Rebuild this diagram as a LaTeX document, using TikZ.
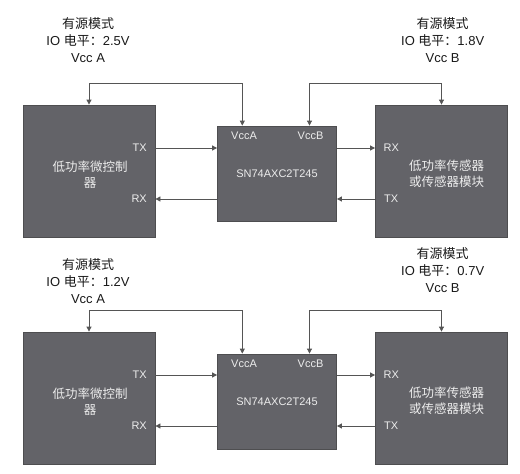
\documentclass[tikz,border=0pt]{standalone}
\usepackage{fontspec}
\setmainfont{Liberation Sans}
\newfontfamily\cjk{Noto Sans CJK SC}
\usetikzlibrary{arrows.meta}
\definecolor{boxfill}{RGB}{99,99,104}
\definecolor{boxline}{RGB}{78,78,80}
\definecolor{wirec}{RGB}{85,85,85}
\definecolor{lbl}{RGB}{236,236,236}
\begin{document}
\begin{tikzpicture}[x=1pt,y=-1pt,
  blk/.style={draw=boxline, fill=boxfill, line width=0.8pt, minimum width=132pt, minimum height=132pt, inner sep=0pt},
  chip/.style={blk, minimum width=119pt, minimum height=95pt, text=lbl, font=\fontsize{11}{13}\selectfont},
  inner/.style={text=lbl, align=center, inner sep=0pt, font=\fontsize{12.5}{16}\selectfont\cjk},
  pin/.style={text=lbl, font=\fontsize{11}{13}\selectfont, inner sep=0pt},
  note/.style={align=center, inner sep=0pt, font=\fontsize{13}{17}\selectfont, text=black!90},
  wire/.style={draw=wirec, line width=0.8pt},
  arr/.style={wire, -{Triangle[length=5pt,width=5pt]}},
  darr/.style={wire, {Triangle[length=5pt,width=5pt]}-{Triangle[length=5pt,width=5pt]}},
]
\useasboundingbox (0,0) rectangle (520,474);

% ---------- top half ----------
\node[blk] (mcu1) at (89,171) {};
\node[chip] (mid1) at (277,173.5) {SN74AXC2T245};
\node[blk] (sen1) at (441.5,171) {};
\node[inner] (mcu1t) at (90,174.5) {低功率微控制\\器};
\node[inner] (sen1t) at (446.5,174) {低功率传感器\\或传感器模块};
\node[pin, anchor=east] (tx1) at (147,148) {TX};
\node[pin, anchor=east] (rx1) at (147,199) {RX};
\node[pin, anchor=west] (srx1) at (383.5,148) {RX};
\node[pin, anchor=west] (stx1) at (384,199) {TX};
\node[pin] (va1) at (244,136) {VccA};
\node[pin] (vb1) at (310.5,136) {VccB};
\node[note] (n1a) at (88,40.5) {{\cjk 有源模式}\\IO {\cjk 电平：}2.5V\\Vcc A};
\node[note] (n1b) at (442.7,40.5) {{\cjk 有源模式}\\IO {\cjk 电平：}1.8V\\Vcc B};
\coordinate (rail1) at (0,83);
\draw[darr] (mcu1.north) -- (mcu1.north |- rail1) -| ([xshift=25.2pt]mid1.north west);
\draw[darr] ([xshift=-27.4pt]mid1.north east) -- ([xshift=-27.4pt]mid1.north east |- rail1) -| (sen1.north);
\draw[arr] ([yshift=23pt]mcu1.east) -- ([yshift=23pt]mcu1.east -| mid1.west);
\draw[arr] ([yshift=-28pt]mcu1.east -| mid1.west) -- ([yshift=-28pt]mcu1.east);
\draw[arr] ([yshift=23pt]sen1.west -| mid1.east) -- ([yshift=23pt]sen1.west);
\draw[arr] ([yshift=-28pt]sen1.west) -- ([yshift=-28pt]sen1.west -| mid1.east);

% ---------- bottom half ----------
\node[blk] (mcu2) at (89,398) {};
\node[chip] (mid2) at (277,401.5) {SN74AXC2T245};
\node[blk] (sen2) at (441.5,398) {};
\node[inner] (mcu2t) at (90,401.5) {低功率微控制\\器};
\node[inner] (sen2t) at (446.5,401) {低功率传感器\\或传感器模块};
\node[pin, anchor=east] (tx2) at (147,375) {TX};
\node[pin, anchor=east] (rx2) at (147,426) {RX};
\node[pin, anchor=west] (srx2) at (383.5,375) {RX};
\node[pin, anchor=west] (stx2) at (384,426) {TX};
\node[pin] (va2) at (244,364) {VccA};
\node[pin] (vb2) at (310.5,364) {VccB};
\node[note] (n2a) at (88,281) {{\cjk 有源模式}\\IO {\cjk 电平：}1.2V\\Vcc A};
\node[note] (n2b) at (442.7,270.5) {{\cjk 有源模式}\\IO {\cjk 电平：}0.7V\\Vcc B};
\coordinate (rail2) at (0,310);
\draw[darr] (mcu2.north) -- (mcu2.north |- rail2) -| ([xshift=25.2pt]mid2.north west);
\draw[darr] ([xshift=-27.4pt]mid2.north east) -- ([xshift=-27.4pt]mid2.north east |- rail2) -| (sen2.north);
\draw[arr] ([yshift=23pt]mcu2.east) -- ([yshift=23pt]mcu2.east -| mid2.west);
\draw[arr] ([yshift=-28pt]mcu2.east -| mid2.west) -- ([yshift=-28pt]mcu2.east);
\draw[arr] ([yshift=23pt]sen2.west -| mid2.east) -- ([yshift=23pt]sen2.west);
\draw[arr] ([yshift=-28pt]sen2.west) -- ([yshift=-28pt]sen2.west -| mid2.east);
\end{tikzpicture}
\end{document}
